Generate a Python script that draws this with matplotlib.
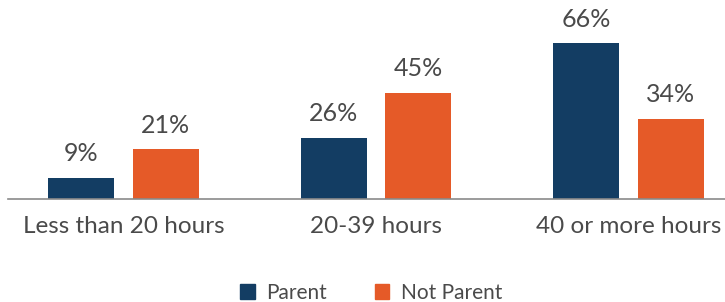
import matplotlib.pyplot as plt
from matplotlib.patches import Patch
import numpy as np

categories = ["Less than 20 hours", "20-39 hours", "40 or more hours"]
parent = [9, 26, 66]
not_parent = [21, 45, 34]
series_names = ["Parent", "Not Parent"]
colors = ["#133d63", "#e55a28"]
text_color = "#4a4a4a"

plt.rcParams['font.family'] = ['Lato', 'DejaVu Sans']

fig = plt.figure(figsize=(7.25, 3.02), dpi=100)
ax = fig.add_axes([0, 0.341, 1, 0.659])

x = np.arange(len(categories))
w = 0.261
off = 0.168

for vals, o, c in [(parent, -off, colors[0]), (not_parent, off, colors[1])]:
    bars = ax.bar(x + o, vals, width=w, color=c)
    for b, v in zip(bars, vals):
        ax.annotate(f"{v}%", (b.get_x() + b.get_width() / 2, v),
                    xytext=(0, 9), textcoords="offset points",
                    ha="center", va="bottom", fontsize=18, color=text_color)

ax.set_xlim(-0.489, 2.382)
ax.set_ylim(0, 84.2)
ax.set_xticks(x)
ax.set_xticklabels(categories, fontsize=17.5, color=text_color)
ax.tick_params(axis="x", length=0, pad=12)
ax.set_yticks([])
for s in ["top", "right", "left"]:
    ax.spines[s].set_visible(False)
ax.spines["bottom"].set_color("#8a8a8a")
ax.spines["bottom"].set_linewidth(1.2)
ax.spines["bottom"].set_bounds(-0.457, 2.382)

handles = [Patch(color=c, label=n) for c, n in zip(colors, series_names)]
fig.legend(handles=handles, loc="lower center", ncol=2, frameon=False,
           fontsize=15, labelcolor=text_color, handlelength=0.7,
           handleheight=0.7, handletextpad=0.55, columnspacing=2.3,
           bbox_to_anchor=(0.512, -0.064))

fig.savefig("out.png", dpi=100)
